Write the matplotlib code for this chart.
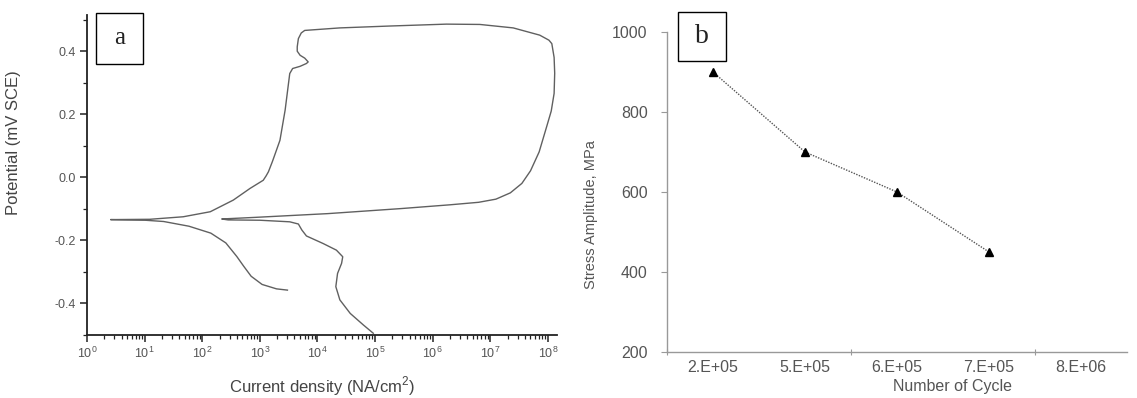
import numpy as np
import matplotlib
matplotlib.use("Agg")
import matplotlib.pyplot as plt
from matplotlib.patches import Rectangle
from matplotlib.ticker import LogLocator, NullFormatter, FixedLocator, MultipleLocator

# ---------------- data: panel a (cyclic polarization curve) ----------------
# log10 of current density (NA/cm^2) along the scan path
log_current = [3.48, 3.29, 3.04, 2.85, 2.72, 2.60, 2.41, 2.15, 1.77, 1.33, 1.01, 0.41,
               1.09, 1.67, 2.14, 2.54, 2.83, 3.06, 3.11, 3.15, 3.22, 3.29, 3.35, 3.44,
               3.52, 3.57, 3.70, 3.81, 3.84, 3.78, 3.70, 3.65, 3.65, 3.67, 3.72, 3.78,
               4.39, 5.26, 6.24, 6.82, 7.40, 7.86, 8.02, 8.07, 8.11, 8.12, 8.11, 8.06,
               7.98, 7.85, 7.70, 7.55, 7.35, 7.10, 6.80, 6.30, 5.45, 4.18, 2.91, 2.34,
               2.45, 3.00, 3.52, 3.67, 3.73, 3.81, 4.10, 4.33, 4.44, 4.42, 4.35, 4.32,
               4.39, 4.57, 4.80, 4.97]
potential = [-0.359, -0.355, -0.341, -0.315, -0.283, -0.252, -0.209, -0.178, -0.156, -0.141, -0.137, -0.135,
             -0.134, -0.126, -0.110, -0.073, -0.036, -0.010, 0.004, 0.017, 0.050, 0.086, 0.117, 0.213,
             0.329, 0.345, 0.352, 0.361, 0.366, 0.378, 0.387, 0.400, 0.414, 0.440, 0.458, 0.466,
             0.474, 0.480, 0.486, 0.485, 0.474, 0.451, 0.435, 0.424, 0.380, 0.330, 0.266, 0.210,
             0.160, 0.080, 0.020, -0.020, -0.050, -0.070, -0.080, -0.088, -0.100, -0.116, -0.128, -0.133,
             -0.136, -0.137, -0.142, -0.149, -0.168, -0.187, -0.211, -0.232, -0.253, -0.274, -0.306, -0.348,
             -0.390, -0.433, -0.470, -0.496]

# ---------------- data: panel b (S-N) ----------------
cycle_labels = ["2.E+05", "5.E+05", "6.E+05", "7.E+05", "8.E+06"]
stress_amplitude = [900, 700, 600, 450]

W, H = 1137, 398
fig = plt.figure(figsize=(W / 100, H / 100), dpi=100)
plt.rcParams['font.family'] = ['Liberation Sans', 'DejaVu Sans']
plt.rcParams['mathtext.fontset'] = 'custom'
plt.rcParams['mathtext.rm'] = 'Liberation Sans'

def rect(l, t, r, b):
    return [l / W, (H - b) / H, (r - l) / W, (b - t) / H]

# ---------------- panel a ----------------
axa = fig.add_axes(rect(87, 15, 557, 334.5))
current = 10.0 ** np.array(log_current)
axa.plot(current, potential, color="#606060", lw=1.0)
axa.set_xscale("log")
axa.set_xlim(1, 10 ** 8.16)
axa.set_ylim(-0.5, 0.515)
for s in ["top", "right"]:
    axa.spines[s].set_visible(False)
for s in ["left", "bottom"]:
    axa.spines[s].set_linewidth(1.3)
    axa.spines[s].set_color("#222222")
axa.xaxis.set_major_locator(LogLocator(base=10, numticks=20))
axa.xaxis.set_minor_locator(LogLocator(base=10, subs=np.arange(2, 10), numticks=20))
axa.xaxis.set_minor_formatter(NullFormatter())
axa.xaxis.set_major_formatter(plt.FuncFormatter(lambda v, p: r"10$^{\mathregular{%d}}$" % round(np.log10(v))))
axa.yaxis.set_major_locator(FixedLocator([-0.4, -0.2, 0.0, 0.2, 0.4]))
axa.yaxis.set_minor_locator(MultipleLocator(0.1))
axa.yaxis.set_major_formatter(plt.FuncFormatter(lambda v, p: f"{v:.1f}"))
axa.tick_params(which="major", direction="out", length=5, width=1.1, color="#222222",
                labelsize=9, labelcolor="#555555", pad=3)
axa.tick_params(which="minor", direction="out", length=3, width=0.9, color="#222222")
axa.set_ylabel("Potential (mV SCE)", fontsize=12, color="#444444")
axa.yaxis.set_label_coords(-0.14, 0.6)
axa.set_xlabel("Current density (NA/cm$^{\\mathregular{2}}$)", fontsize=12, color="#444444")
axa.xaxis.set_label_coords(0.5, -0.125)

# ---------------- panel b ----------------
axb = fig.add_axes(rect(667, 32, 1127, 352))
xpos = np.arange(len(stress_amplitude))
axb.plot(xpos, stress_amplitude, linestyle=(0, (1, 1)), color="#555555", lw=1.0,
         marker="^", markersize=6, markerfacecolor="black", markeredgecolor="black")
axb.set_xlim(-0.5, len(cycle_labels) - 0.5)
axb.set_ylim(200, 1000)
for s in ["top", "right"]:
    axb.spines[s].set_visible(False)
for s in ["left", "bottom"]:
    axb.spines[s].set_color("#999999")
    axb.spines[s].set_linewidth(1.0)
axb.yaxis.set_major_locator(FixedLocator([200, 400, 600, 800, 1000]))
axb.tick_params(axis="y", direction="out", length=4, color="#999999",
                labelsize=11.5, labelcolor="#555555", pad=10)
axb.xaxis.set_major_locator(FixedLocator([-0.5, 1.5, 3.5]))
axb.xaxis.set_major_formatter(NullFormatter())
axb.xaxis.set_minor_locator(FixedLocator(list(range(len(cycle_labels)))))
axb.set_xticklabels(cycle_labels, minor=True)
axb.tick_params(axis="x", which="major", direction="inout", length=4, color="#999999")
axb.tick_params(axis="x", which="minor", length=0, labelsize=11.5, labelcolor="#555555", pad=6)
axb.set_xlabel("Number of Cycle", fontsize=11.5, color="#555555")
axb.xaxis.set_label_coords(0.62, -0.085)
axb.set_ylabel("Stress Amplitude, MPa", fontsize=10.5, color="#555555",
               family=["Liberation Sans Narrow", "Liberation Sans"])
axb.yaxis.set_label_coords(-0.15, 0.43)

# ---------------- label boxes ----------------
def label_box(l, t, r, b, txt, size):
    fig.patches.append(Rectangle((l / W, (H - b) / H), (r - l) / W, (b - t) / H,
                                 transform=fig.transFigure, fill=False,
                                 edgecolor="black", lw=1.0))
    fig.text((l + r) / 2 / W, (H - (t + b) / 2) / H, txt, ha="center", va="center",
             fontsize=size, family=["Liberation Serif", "DejaVu Serif"], color="#222222")

label_box(96, 13, 143, 64, "a", 18)
label_box(678, 12, 726, 61, "b", 20)

fig.savefig("out.png", dpi=100)
